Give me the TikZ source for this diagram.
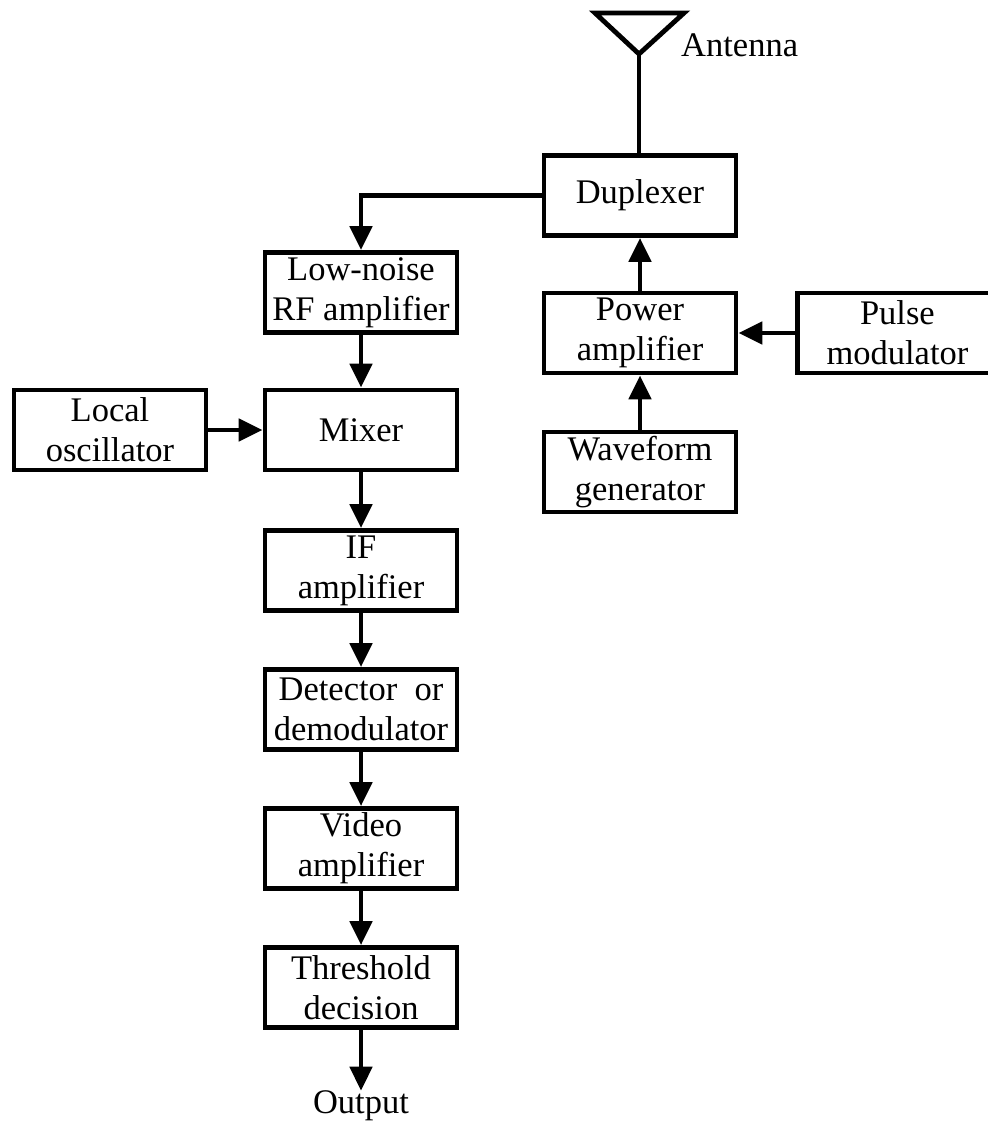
\documentclass[tikz,border=0pt]{standalone}
\usepackage{fontspec}
\setmainfont{Liberation Serif}
\usetikzlibrary{arrows.meta}
\begin{document}
\begin{tikzpicture}[x=1pt,y=-1pt,
  blockbox/.style={draw,line width=4.8pt,minimum width=192pt,minimum height=80pt,
    inner sep=0pt,align=center,font=\fontsize{34.5}{40}\selectfont},
  lbl/.style={inner sep=0pt,font=\fontsize{34.5}{40}\selectfont},
  wire/.style={line width=4.8pt},
  sig/.style={line width=4.8pt,-{Triangle[length=24pt,width=22pt]}}]
\useasboundingbox (0,0) rectangle (987,1126);
% transmitter chain
\node[blockbox] (dup) at (640,195.5) {Duplexer};
\node[blockbox] (pa) at (640,333) {Power\\amplifier};
\node[blockbox,anchor=west,minimum width=200pt,text width=192pt] (pm) at (795,333) {Pulse\\modulator};
\node[blockbox] (wg) at (640,472) {Waveform\\generator};
% receiver chain
\node[blockbox] (lna) at (361,292.5) {Low-noise\\RF amplifier};
\node[blockbox] (lo) at (110,430) {Local\\oscillator};
\node[blockbox] (mix) at (361,430) {Mixer};
\node[blockbox] (ifa) at (361,570.5) {IF\\amplifier};
\node[blockbox] (det) at (361,709.5) {Detector~~or\\demodulator};
\node[blockbox] (vid) at (361,848.5) {Video\\amplifier};
\node[blockbox] (thr) at (361,987.5) {Threshold\\decision};
\node[lbl] (out) at (361,1106) {Output};
% antenna
\coordinate (apex) at (639,54);
\draw[wire,line join=miter] (595,13) -- (684,13) -- (apex) -- cycle;
\node[lbl,anchor=west] (ant) at (681,45) {Antenna};
\draw[wire] (apex) -- (dup.north -| apex);
% connectors
\draw[sig] (dup.west) -| (lna.north);
\draw[sig] (wg.north) -- (pa.south);
\draw[sig] (pa.north) -- (dup.south);
\draw[sig] (pm.west) -- (pa.east);
\draw[sig] (lna.south) -- (mix.north);
\draw[sig] (lo.east) -- (mix.west);
\draw[sig] (mix.south) -- (ifa.north);
\draw[sig] (ifa.south) -- (det.north);
\draw[sig] (det.south) -- (vid.north);
\draw[sig] (vid.south) -- (thr.north);
\draw[sig] (thr.south) -- (out.north);
\end{tikzpicture}
\end{document}
